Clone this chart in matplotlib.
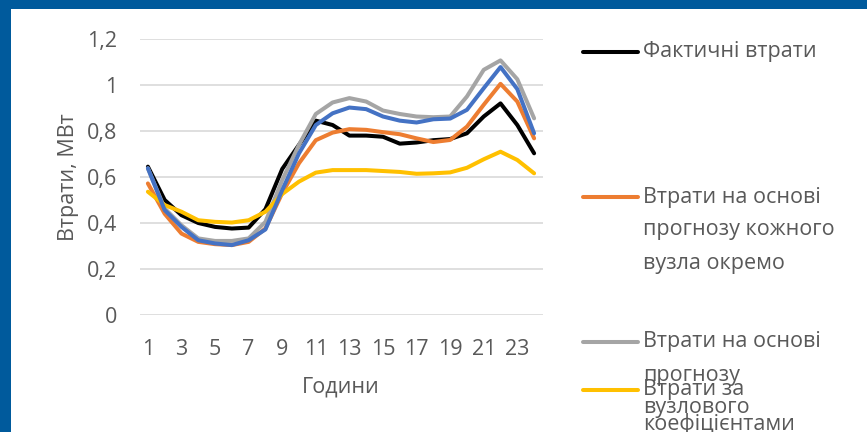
import matplotlib
matplotlib.use('Agg')
import matplotlib.pyplot as plt
from matplotlib.lines import Line2D
from matplotlib.patches import Rectangle

hours = list(range(1, 25))
tick_hours = list(range(1, 24, 2))
y_ticks = [0, 0.2, 0.4, 0.6, 0.8, 1.0, 1.2]
y_tick_labels = ['0', '0,2', '0,4', '0,6', '0,8', '1', '1,2']

actual = [0.645, 0.50, 0.434, 0.40, 0.383, 0.376, 0.38, 0.46, 0.635, 0.74,
          0.845, 0.826, 0.78, 0.78, 0.775, 0.745, 0.75, 0.76, 0.765, 0.79,
          0.863, 0.92, 0.826, 0.703]
per_node = [0.572, 0.44, 0.354, 0.318, 0.308, 0.304, 0.318, 0.376, 0.53, 0.66,
            0.76, 0.793, 0.808, 0.805, 0.795, 0.786, 0.768, 0.752, 0.761, 0.819,
            0.914, 1.005, 0.928, 0.768]
nodal = [0.638, 0.463, 0.39, 0.333, 0.322, 0.322, 0.333, 0.405, 0.587, 0.74,
         0.874, 0.924, 0.943, 0.928, 0.889, 0.874, 0.863, 0.86, 0.863, 0.95,
         1.066, 1.107, 1.025, 0.855]
coeff = [0.536, 0.478, 0.449, 0.412, 0.405, 0.402, 0.412, 0.449, 0.526, 0.58,
         0.619, 0.63, 0.63, 0.63, 0.626, 0.622, 0.614, 0.616, 0.62, 0.64,
         0.677, 0.71, 0.674, 0.616]
blue_series = [0.638, 0.456, 0.383, 0.325, 0.311, 0.304, 0.325, 0.372, 0.543, 0.703,
               0.826, 0.877, 0.902, 0.895, 0.863, 0.845, 0.837, 0.851, 0.854, 0.892,
               0.986, 1.078, 0.982, 0.79]

series = [
    (actual, '#000000'),
    (per_node, '#ED7D31'),
    (nodal, '#A5A5A5'),
    (coeff, '#FFC000'),
    (blue_series, '#4472C4'),
]

plt.rcParams['font.family'] = ['Open Sans', 'DejaVu Sans']
txt_color = '#595959'
fs = 15.5
W, H = 867, 432

fig = plt.figure(figsize=(W / 100, H / 100), dpi=100, facecolor='#005A9C')
bg = Rectangle((11 / W, 0), 1, 1 - 9 / H, transform=fig.transFigure,
               facecolor='white', edgecolor='none', zorder=-5)
fig.add_artist(bg)

ax = fig.add_axes([139.5 / W, 1 - 315 / H, 403 / W, 276 / H])
ax.set_facecolor('white')
for vals, c in series:
    ax.plot(hours, vals, color=c, linewidth=2.9, solid_capstyle='round', zorder=3)

ax.set_xlim(0.5, 24.5)
ax.set_ylim(0, 1.2)
ax.set_yticks(y_ticks)
ax.set_yticklabels(y_tick_labels)
ax.set_xticks(tick_hours)
ax.grid(axis='y', color='#D9D9D9', linewidth=1.2)
ax.set_axisbelow(True)
for s in ax.spines.values():
    s.set_visible(False)
ax.tick_params(length=0, labelsize=fs, colors=txt_color)
ax.tick_params(axis='y', pad=16)
ax.tick_params(axis='x', pad=17)
ax.set_xlabel('Години', fontsize=fs, color=txt_color, labelpad=12)
ax.set_ylabel('Втрати, МВт', fontsize=fs, color=txt_color, labelpad=6)

# legend drawn by hand, lines cramped at the bottom as in the original
def fy(py):
    return 1 - py / H

legend_rows = [
    ('#000000', 52, [(52, 'Фактичні втрати')]),
    ('#ED7D31', 197, [(197, 'Втрати на основі'), (230, 'прогнозу кожного'),
                      (263, 'вузла окремо')]),
    ('#A5A5A5', 342, [(342, 'Втрати на основі'), (376, 'прогнозу'), (407, 'вузлового')]),
    ('#FFC000', 390, [(390, 'Втрати за'), (424, 'коефіцієнтами')]),
]
for c, ly, lines in legend_rows:
    fig.add_artist(Line2D([583 / W, 638 / W], [fy(ly), fy(ly)], color=c,
                          linewidth=2.9, solid_capstyle='round', transform=fig.transFigure))
    for ty, t in lines:
        fig.text(643 / W, fy(ty), t, fontsize=fs, color=txt_color, va='center', ha='left')

fig.savefig('out.png', dpi=100, facecolor=fig.get_facecolor())
